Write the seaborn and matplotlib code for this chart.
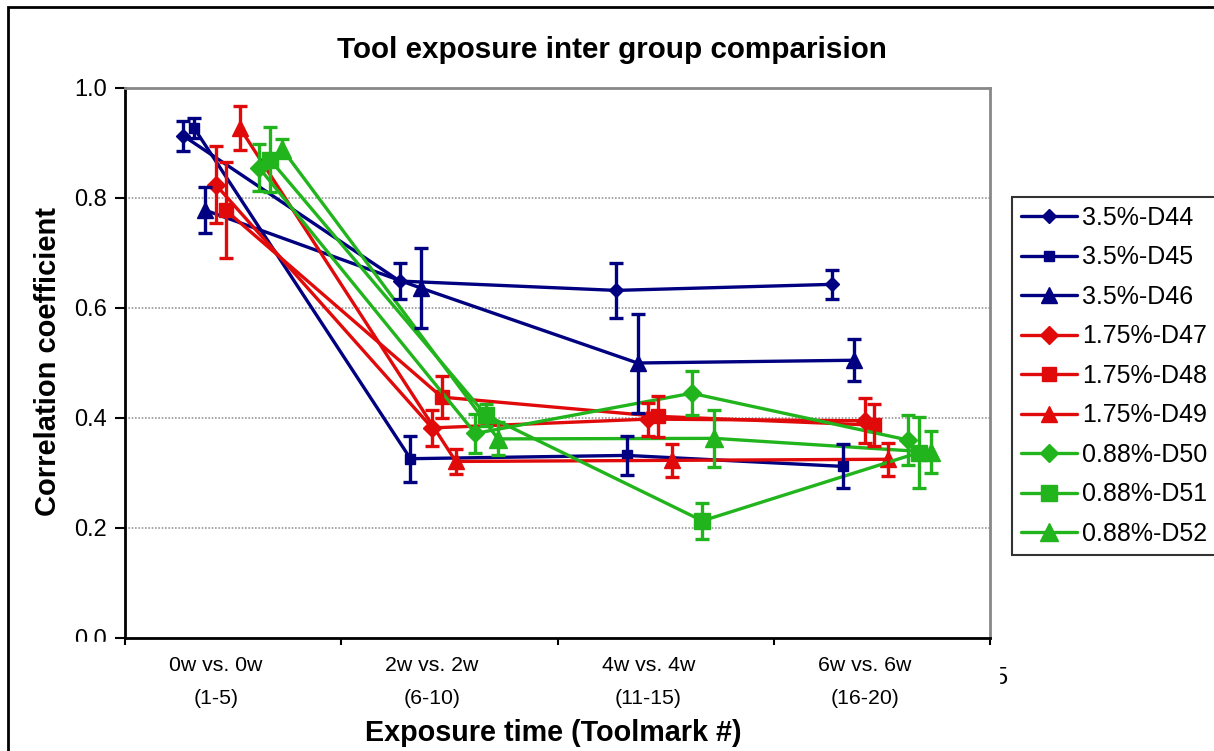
import matplotlib
matplotlib.use("Agg")
import matplotlib.pyplot as plt
from matplotlib.patches import Rectangle
import seaborn as sns

# data
series = ['3.5%-D44', '3.5%-D45', '3.5%-D46',
          '1.75%-D47', '1.75%-D48', '1.75%-D49',
          '0.88%-D50', '0.88%-D51', '0.88%-D52']
# x offset of each series inside a group (the points are staggered)
offsets = [0.27, 0.32, 0.37, 0.42, 0.465, 0.53, 0.62, 0.67, 0.725]
groups = ['0w vs. 0w\n(1-5)', '2w vs. 2w\n(6-10)', '4w vs. 4w\n(11-15)', '6w vs. 6w\n(16-20)']

d44 = [0.913, 0.649, 0.632, 0.643]
d45 = [0.927, 0.326, 0.332, 0.312]
d46 = [0.778, 0.636, 0.500, 0.505]
d47 = [0.824, 0.382, 0.398, 0.395]
d48 = [0.778, 0.438, 0.403, 0.387]
d49 = [0.928, 0.321, 0.323, 0.325]
d50 = [0.855, 0.372, 0.445, 0.360]
d51 = [0.870, 0.405, 0.213, 0.337]
d52 = [0.890, 0.362, 0.363, 0.338]

e44 = [0.027, 0.033, 0.050, 0.026]
e45 = [0.018, 0.042, 0.035, 0.040]
e46 = [0.042, 0.073, 0.090, 0.038]
e47 = [0.070, 0.032, 0.030, 0.041]
e48 = [0.088, 0.038, 0.037, 0.038]
e49 = [0.040, 0.022, 0.030, 0.030]
e50 = [0.043, 0.035, 0.040, 0.045]
e51 = [0.060, 0.020, 0.033, 0.065]
e52 = [0.017, 0.030, 0.052, 0.038]

values = [d44, d45, d46, d47, d48, d49, d50, d51, d52]
errors = [e44, e45, e46, e47, e48, e49, e50, e51, e52]

blue, red, green = '#000080', '#E00A0A', '#22B41C'
colors = [blue] * 3 + [red] * 3 + [green] * 3
markers = ['D', 's', '^'] * 3
msizes = [7.5, 7.5, 11.5, 9.5, 10, 11.5, 9.5, 12, 13]

sns.set_style('white')
plt.rcParams['font.family'] = ['Liberation Sans', 'DejaVu Sans']
plt.rcParams['text.color'] = 'black'
plt.rcParams['axes.labelcolor'] = 'black'
plt.rcParams['xtick.color'] = 'black'
plt.rcParams['ytick.color'] = 'black'

fig = plt.figure(figsize=(12.14, 7.51), dpi=100)
ax = fig.add_axes([125 / 1214, 1 - 638 / 751, 865 / 1214, 550 / 751])

for name, ys, es, c, m, ms, off in zip(series, values, errors, colors, markers, msizes, offsets):
    xs = [i + off for i in range(len(ys))]
    sns.lineplot(x=xs, y=ys, color=c, marker=m, markersize=ms, mec=c, mew=1,
                 linewidth=2.4, sort=False, label=name, ax=ax, zorder=3)
    ax.errorbar(xs, ys, yerr=es, fmt='none', ecolor=c, elinewidth=2.4,
                capsize=5, capthick=2.4, zorder=4)

ax.set_xlim(0, 4)
ax.set_ylim(0, 1.0)
ax.set_yticks([0, 0.2, 0.4, 0.6, 0.8, 1.0])
ax.set_yticklabels(['0.0', '0.2', '0.4', '0.6', '0.8', '1.0'], fontsize=17)
ax.set_xticks([0, 1, 2, 3, 4])
ax.set_xticklabels([])
ax.tick_params(axis='y', direction='out', length=7, width=1.5, left=True, pad=6)
ax.tick_params(axis='x', direction='out', length=5, width=1.5, bottom=True)

ax.yaxis.grid(True, color='#999999', linestyle=(0, (1, 1)), linewidth=1.2)
ax.set_axisbelow(True)
for side in ['left', 'bottom']:
    ax.spines[side].set_color('black')
    ax.spines[side].set_linewidth(2)
for side in ['top', 'right']:
    ax.spines[side].set_color('#888888')
    ax.spines[side].set_linewidth(2)

# category labels under each group
for i, g in enumerate(groups):
    ax.text(i + 0.42, -0.033, g, transform=ax.get_xaxis_transform(), ha='center',
            va='top', fontsize=15.3, linespacing=1.95)

fig.text(612 / 1214, 1 - 50 / 751, 'Tool exposure inter group comparision',
         fontsize=21.3, fontweight='bold', ha='center', va='center')
fig.text(553 / 1214, 1 - 733 / 751, 'Exposure time (Toolmark #)',
         fontsize=20.7, fontweight='bold', ha='center', va='center')
fig.text(48 / 1214, 1 - 362 / 751, 'Correlation coefficient', rotation=90,
         fontsize=21, fontweight='bold', ha='center', va='center')

leg = ax.legend(loc='upper left', bbox_to_anchor=(1012 / 1214, 1 - 197 / 751),
                bbox_transform=fig.transFigure, frameon=True, fancybox=False,
                fontsize=18, labelspacing=0.62, handlelength=2.25, handletextpad=0.2,
                borderpad=0.35, borderaxespad=0)
leg.get_frame().set_edgecolor('black')
leg.get_frame().set_linewidth(1.5)

# stray clipped label to the right of the axis, as in the source image
fig.text(1001 / 1214, 1 - 678 / 751, '5', fontsize=17, ha='center', va='center')
fig.add_artist(Rectangle((990 / 1214, 1 - 700 / 751), 9 / 1214, 40 / 751,
                         transform=fig.transFigure, color='white', zorder=10))
# bottom of the 0.0 label is hidden in the source
fig.add_artist(Rectangle((70 / 1214, 1 - 655 / 751), 48 / 1214, 13 / 751,
                         transform=fig.transFigure, color='white', zorder=10))

# outer chart frame
fig.add_artist(Rectangle((8 / 1214, -0.02), 1.1, 1 - 7 / 751 + 0.02,
                         transform=fig.transFigure, fill=False, edgecolor='black',
                         linewidth=2))

fig.savefig('out.png', dpi=100)
